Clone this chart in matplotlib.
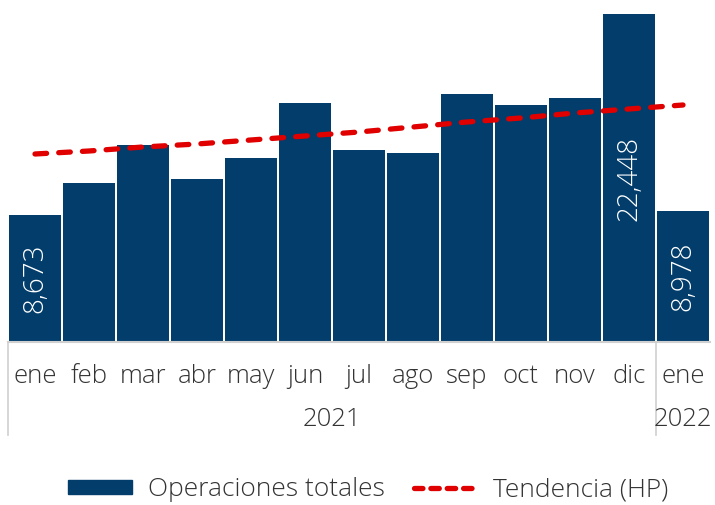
import matplotlib
matplotlib.use("Agg")
import matplotlib.pyplot as plt
import matplotlib.transforms as mtransforms
from matplotlib.lines import Line2D
from matplotlib.patches import Patch

months = ["ene", "feb", "mar", "abr", "may", "jun", "jul", "ago", "sep", "oct", "nov", "dic", "ene"]
years = ["2021", "2022"]
year_spans = [(0, 11), (12, 12)]
operaciones = [8673, 10903, 13461, 11156, 12593, 16378, 13140, 12956, 16994, 16220, 16679, 22448, 8978]
tendencia = [12867, 13072, 13346, 13551, 13825, 14099, 14372, 14715, 15057, 15331, 15673, 15947, 16220]
labeled = {0: "8,673", 11: "22,448", 12: "8,978"}

BAR = "#023d6b"
RED = "#e00000"
TXT = "#333333"
FONT = "Open Sans"
FS = 18.5
W = "light"

fig = plt.figure(figsize=(7.15, 5.05), dpi=100)
ax = fig.add_axes([8/715, 1-342/505, 702/715, 328/505])
x = list(range(len(months)))
ax.bar(x, operaciones, width=0.95, color=BAR, zorder=2)
ax.plot(x, tendencia, color=RED, lw=3.8, dashes=(2.2, 2.3), dash_capstyle="round", zorder=3)

for i, lab in labeled.items():
    ax.text(i, operaciones[i]/2, lab, rotation=90, ha="center", va="center",
            color="white", fontsize=20, family=FONT, weight=W, zorder=4)

ax.set_xlim(-0.5, len(months)-0.5)
ax.set_ylim(0, max(operaciones))
ax.set_yticks([])
for s in ["left", "right", "top"]:
    ax.spines[s].set_visible(False)
ax.spines["bottom"].set_color("#d0d0d0")
ax.spines["bottom"].set_linewidth(1.5)
ax.set_xticks(x)
ax.set_xticklabels(months, fontsize=FS, family=FONT, weight=W, color=TXT)
ax.tick_params(axis="x", length=0, pad=16)

trans = mtransforms.blended_transform_factory(ax.transData, ax.transAxes)
depth = -(435-342)/328
for b in [-0.5, 11.5]:
    ax.plot([b, b], [0, depth], transform=trans, color="#d0d0d0", lw=1.2, clip_on=False)
for yl, (a, b) in zip(years, year_spans):
    ax.text((a+b)/2, -(420-342)/328, yl, transform=trans, ha="center", va="center",
            fontsize=FS, family=FONT, weight=W, color=TXT)

handles = [Patch(facecolor=BAR, edgecolor=BAR),
           Line2D([0], [0], color=RED, lw=3.8, dashes=(1.6, 1.5), dash_capstyle="round")]
leg = fig.legend(handles, ["Operaciones totales", "Tendencia (HP)"], loc="center",
                 bbox_to_anchor=(0.515, 1-490/505), ncol=2, frameon=False, borderpad=0.1,
                 prop={"family": FONT, "size": 19, "weight": W}, handlelength=2.4, handleheight=0.42,
                 columnspacing=1.1, handletextpad=0.6)
for t in leg.get_texts():
    t.set_color(TXT)

fig.savefig("out.png", dpi=100)
